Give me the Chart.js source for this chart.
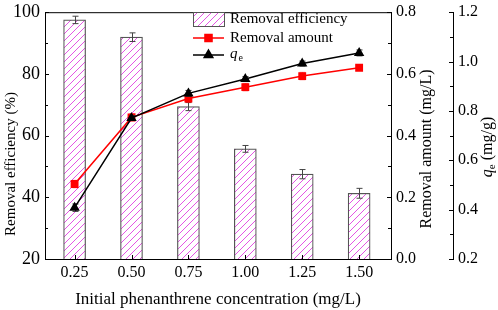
<!DOCTYPE html>
<html>
<head>
<meta charset="utf-8">
<script src="https://cdn.jsdelivr.net/npm/chart.js@4.4.1/dist/chart.umd.min.js"></script>
<style>
  html, body { margin: 0; padding: 0; background: #fff; }
  #wrap { width: 498px; height: 310px; position: relative; }
</style>
</head>
<body>
<div id="wrap"><canvas id="c"></canvas></div>
<script>
// values
const concentrations = [0.25, 0.50, 0.75, 1.00, 1.25, 1.50];
const removalEfficiency = [97.5, 91.9, 69.4, 55.7, 47.5, 41.3];
const efficiencyErr = [1.2, 1.4, 1.3, 1.1, 1.5, 1.6];
const removalAmount = [0.243, 0.459, 0.520, 0.557, 0.593, 0.620];
const amountErr = [0.012, 0.012, 0.012, 0.012, 0.012, 0.008];
const qeValues = [0.408, 0.771, 0.871, 0.929, 0.992, 1.035];
const qeErr = [0.015, 0.010, 0.012, 0.010, 0.010, 0.012];

const serif = "'Liberation Serif', 'Times New Roman', serif";
Chart.defaults.font.family = serif;
Chart.defaults.color = '#000';

const canvas = document.getElementById('c');
const ctx = canvas.getContext('2d');

function hatchPattern() {
  const t = document.createElement('canvas');
  t.width = 7; t.height = 7;
  const g = t.getContext('2d');
  g.fillStyle = '#fff';
  g.fillRect(0, 0, 7, 7);
  g.strokeStyle = '#e455e4';
  g.lineWidth = 1;
  g.beginPath();
  g.moveTo(-1, 8); g.lineTo(8, -1);
  g.moveTo(-1, 1); g.lineTo(1, -1);
  g.moveTo(6, 8); g.lineTo(8, 6);
  g.stroke();
  return ctx.createPattern(t, 'repeat');
}
const hatch = hatchPattern();

const pts = (vals) => vals.map((v, i) => ({ x: concentrations[i], y: v }));

function drawErrors(chart, index) {
  const ds = chart.data.datasets[index];
  const meta = chart.getDatasetMeta(index);
  const scale = chart.scales[ds.yAxisID];
  const c = chart.ctx;
  c.save();
  c.strokeStyle = ds.errorColor;
  c.lineWidth = 1;
  meta.data.forEach((el, i) => {
    const v = ds.data[i].y, e = ds.errors[i];
    const x = Math.round(el.x) + 0.5;
    const yt = scale.getPixelForValue(v + e), yb = scale.getPixelForValue(v - e);
    c.beginPath();
    c.moveTo(x, yt); c.lineTo(x, yb);
    c.moveTo(x - 3, yt); c.lineTo(x + 3, yt);
    c.moveTo(x - 3, yb); c.lineTo(x + 3, yb);
    c.stroke();
  });
  c.restore();
}

const errorBars = {
  id: 'errorBars',
  beforeDatasetDraw(chart, args) {
    const ds = chart.data.datasets[args.index];
    if (ds.errors && ds.type === 'line') drawErrors(chart, args.index);
  },
  afterDatasetDraw(chart, args) {
    const ds = chart.data.datasets[args.index];
    if (ds.errors && ds.type !== 'line') drawErrors(chart, args.index);
  }
};

function rotatedText(c, parts, cx, cy) {
  c.save();
  c.translate(cx, cy);
  c.rotate(-Math.PI / 2);
  c.textBaseline = 'middle';
  c.textAlign = 'left';
  let total = 0;
  parts.forEach(p => { c.font = p.font; total += c.measureText(p.text).width; });
  let x = -total / 2;
  parts.forEach(p => {
    c.font = p.font;
    c.fillText(p.text, x, p.dy || 0);
    x += c.measureText(p.text).width;
  });
  c.restore();
}

const frameAndTicks = {
  id: 'frameAndTicks',
  afterDraw(chart) {
    const { ctx: c, chartArea: a, scales } = chart;
    c.save();
    c.strokeStyle = '#000';
    c.lineWidth = 1;
    c.beginPath();
    c.moveTo(a.left, a.top + 0.5); c.lineTo(a.right, a.top + 0.5);
    // inward ticks, major and minor
    const yTicks = (scale, x, dir) => {
      const vals = scale.ticks.map(t => t.value);
      vals.forEach((v, i) => {
        const y = Math.round(scale.getPixelForValue(v)) + 0.5;
        c.moveTo(x, y); c.lineTo(x + dir * 4, y);
        if (i < vals.length - 1) {
          const ym = Math.round(scale.getPixelForValue((v + vals[i + 1]) / 2)) + 0.5;
          c.moveTo(x, ym); c.lineTo(x + dir * 3, ym);
        }
      });
    };
    yTicks(scales.y, scales.y.right, 1);
    yTicks(scales.y1, scales.y1.left, -1);
    yTicks(scales.y2, scales.y2.left, -1);
    concentrations.forEach(v => {
      const x = Math.round(scales.x.getPixelForValue(v)) + 0.5;
      c.moveTo(x, a.bottom); c.lineTo(x, a.bottom - 4);
    });
    c.stroke();
    c.fillStyle = '#000';
    rotatedText(c, [{ text: 'Removal efficiency (%)', font: '15px ' + serif }], 11, 164);
    rotatedText(c, [{ text: 'Removal amount (mg/L)', font: '16px ' + serif }], 427, 149);
    rotatedText(c, [
      { text: 'q', font: 'italic 16px ' + serif },
      { text: 'e', font: '11px ' + serif, dy: 4 },
      { text: ' (mg/g)', font: '16px ' + serif }
    ], 488, 147);
    c.restore();
  }
};

const legendBox = {
  id: 'legendBox',
  afterDraw(chart) {
    const c = chart.ctx;
    const ds = chart.data.datasets;
    const x0 = 193, x1 = 224, tx = 230;
    c.save();
    c.font = '15px ' + serif;
    c.textBaseline = 'middle';
    c.fillStyle = hatch;
    c.fillRect(x0, 12, x1 - x0, 14);
    c.strokeStyle = '#555';
    c.lineWidth = 1;
    c.strokeRect(x0 + 0.5, 12.5, x1 - x0, 14);
    c.fillStyle = '#000';
    c.fillText(ds[0].label, tx, 19);
    [[ds[1], 38], [ds[2], 55]].forEach(([d, y]) => {
      c.strokeStyle = d.borderColor;
      c.lineWidth = 1.5;
      c.beginPath();
      c.moveTo(x0, y); c.lineTo(x1, y);
      c.stroke();
      c.fillStyle = d.pointBackgroundColor;
      c.strokeStyle = d.pointBorderColor;
      Chart.helpers.drawPoint(c, { pointStyle: d.pointStyle, radius: 5, rotation: 0, borderWidth: 1 }, (x0 + x1) / 2, y);
    });
    c.fillStyle = '#000';
    c.fillText(ds[1].label, tx, 38);
    c.font = 'italic 15px ' + serif;
    c.fillText('q', tx, 54);
    const w = c.measureText('q').width;
    c.font = '10px ' + serif;
    c.fillText('e', tx + w + 1, 58);
    c.restore();
  }
};

new Chart(ctx, {
  type: 'bar',
  data: {
    datasets: [
      {
        type: 'bar',
        label: 'Removal efficiency',
        data: pts(removalEfficiency),
        errors: efficiencyErr,
        errorColor: '#444',
        yAxisID: 'y',
        backgroundColor: hatch,
        borderColor: '#555',
        borderWidth: 1.2,
        borderSkipped: false,
        barThickness: 22,
        order: 3
      },
      {
        type: 'line',
        label: 'Removal amount',
        data: pts(removalAmount),
        errors: amountErr,
        errorColor: 'rgba(255,0,0,0.55)',
        yAxisID: 'y1',
        borderColor: '#ff0000',
        borderWidth: 1.5,
        pointStyle: 'rect',
        pointRadius: 4.5,
        pointBackgroundColor: '#ff0000',
        pointBorderColor: '#ff0000',
        order: 2
      },
      {
        type: 'line',
        label: 'qe',
        data: pts(qeValues),
        errors: qeErr,
        errorColor: '#333',
        yAxisID: 'y2',
        borderColor: '#000',
        borderWidth: 1.5,
        pointStyle: 'triangle',
        pointRadius: 4.5,
        pointBackgroundColor: '#000',
        pointBorderColor: '#000',
        order: 1
      }
    ]
  },
  options: {
    responsive: true,
    maintainAspectRatio: false,
    animation: false,
    layout: { padding: { top: 8 } },
    plugins: { legend: { display: false }, tooltip: { enabled: false } },
    scales: {
      x: {
        type: 'linear',
        offset: false,
        min: 0.12,
        max: 1.64,
        afterBuildTicks: s => { s.ticks = concentrations.map(v => ({ value: v })); },
        ticks: { callback: v => v.toFixed(2), font: { size: 16 }, padding: 4, maxRotation: 0, autoSkip: false },
        grid: { display: false, drawTicks: false, offset: false },
        border: { color: '#000', width: 1 },
        title: { display: true, text: 'Initial phenanthrene concentration (mg/L)', font: { size: 17 }, padding: 0 },
        afterFit: s => { s.height = 51; }
      },
      y: {
        position: 'left',
        min: 20, max: 100,
        ticks: { stepSize: 20, font: { size: 18, lineHeight: 0.8 }, padding: 5 },
        grid: { display: false, drawTicks: false },
        border: { color: '#000', width: 1 },
        afterFit: s => { s.width = 45; }
      },
      y1: {
        position: 'right',
        min: 0, max: 0.8,
        ticks: { stepSize: 0.2, callback: v => v.toFixed(1), font: { size: 16, lineHeight: 0.8 }, padding: 5 },
        grid: { display: false, drawTicks: false },
        border: { color: '#000', width: 1 },
        afterFit: s => { s.width = 62; }
      },
      y2: {
        position: 'right',
        weight: 1,
        min: 0.2, max: 1.2,
        ticks: { stepSize: 0.2, callback: v => v.toFixed(1), font: { size: 16, lineHeight: 0.8 }, padding: 5 },
        grid: { display: false, drawTicks: false },
        border: { color: '#000', width: 1 },
        afterFit: s => { s.width = 45; }
      }
    }
  },
  plugins: [errorBars, frameAndTicks, legendBox]
});
</script>
</body>
</html>
